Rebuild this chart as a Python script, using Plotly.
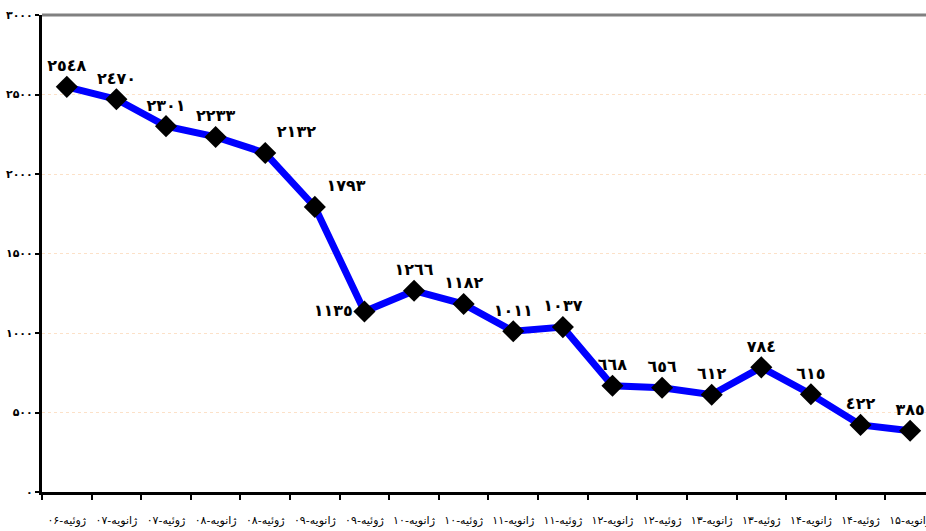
import plotly.graph_objects as go

# Data
categories = ["ژوئیه-۰۶", "ژانویه-۰۷", "ژوئیه-۰۷", "ژانویه-۰۸", "ژوئیه-۰۸", "ژانویه-۰۹",
              "ژوئیه-۰۹", "ژانویه-۱۰", "ژوئیه-۱۰", "ژانویه-۱۱", "ژوئیه-۱۱", "ژانویه-۱۲",
              "ژوئیه-۱۲", "ژانویه-۱۳", "ژوئیه-۱۳", "ژانویه-۱۴", "ژوئیه-۱۴", "ژانویه-۱۵"]
values = [2548, 2470, 2301, 2233, 2132, 1793, 1135, 1266, 1182, 1011, 1037,
          668, 656, 612, 784, 615, 422, 385]
value_labels = ["٢٥٤٨", "٢٤٧٠", "٢٣٠١", "٢٢٣٣", "٢١٣٢", "١٧٩٣", "١١٣٥", "١٢٦٦", "١١٨٢",
                "١٠١١", "١٠٣٧", "٦٦٨", "٦٥٦", "٦١٢", "٧٨٤", "٦١٥", "٤٢٢", "٣٨٥"]
label_positions = ["top center", "top center", "top center", "top center", "top right",
                   "top right", "middle left", "top center", "top center", "top center",
                   "top center", "top center", "top center", "top center", "top center",
                   "top center", "top center", "top center"]
y_tick_values = [0, 500, 1000, 1500, 2000, 2500, 3000]
y_tick_labels = ["۰", "۵۰۰", "۱۰۰۰", "۱۵۰۰", "۲۰۰۰", "۲۵۰۰", "۳۰۰۰"]

fig = go.Figure()
fig.add_trace(go.Scatter(
    x=categories, y=values,
    mode="lines+markers+text",
    line=dict(color="#0000FF", width=7),
    marker=dict(symbol="diamond", size=17, color="#000000"),
    text=value_labels,
    textposition=label_positions,
    textfont=dict(family="DejaVu Sans", size=16, color="#000000", weight="bold"),
    cliponaxis=False,
    showlegend=False,
))

fig.add_shape(type="line", xref="paper", yref="paper", x0=0, x1=1, y0=1, y1=1,
              line=dict(color="#808080", width=3))

fig.update_layout(
    width=926, height=531,
    margin=dict(l=42, r=0, t=15, b=39),
    paper_bgcolor="white", plot_bgcolor="white",
    font=dict(family="DejaVu Sans", color="#000000"),
)
fig.update_xaxes(
    type="category",
    range=[-0.5, 17.32],
    automargin=False,
    showline=True, linecolor="#000000", linewidth=3,
    ticks="outside", tickson="boundaries", ticklen=5, tickwidth=2, tickcolor="#000000",
    showgrid=False, zeroline=False,
    tickfont=dict(size=11, family="DejaVu Sans"),
    ticklabelstandoff=16,
    tickangle=0,
)
fig.update_yaxes(
    range=[0, 3000],
    automargin=False,
    tickvals=y_tick_values, ticktext=y_tick_labels,
    showline=True, linecolor="#000000", linewidth=3,
    ticks="outside", ticklen=4, tickwidth=2, tickcolor="#000000",
    showgrid=True, gridcolor="#FCE1C8", gridwidth=1, griddash="dot",
    zeroline=False,
    tickfont=dict(size=11, family="DejaVu Sans", weight="bold"),
)

fig.write_html("out.html",
               config={"displayModeBar": False},
               post_script="document.body.style.margin='0';document.body.style.overflow='hidden';")
